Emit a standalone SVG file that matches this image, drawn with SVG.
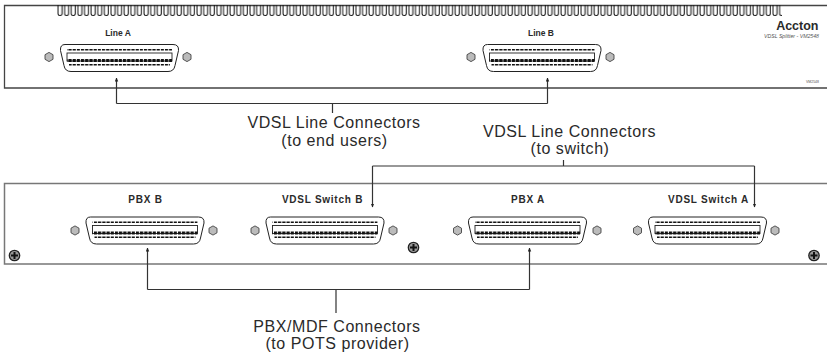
<svg xmlns="http://www.w3.org/2000/svg" width="827" height="354" viewBox="0 0 827 354">
<style>
text{font-family:"Liberation Sans",Arial,sans-serif;fill:#2a2a2a}
.cap{font-size:16px;text-anchor:middle;letter-spacing:.55px}
.lab{font-size:8.500px;font-weight:bold;text-anchor:middle}
.lab2{font-size:10px;font-weight:bold;text-anchor:middle;letter-spacing:.75px}
.panel{fill:none;stroke:#444;stroke-width:1.300}
.panel2{fill:none;stroke:#777;stroke-width:1.500}
.wire{fill:none;stroke:#333;stroke-width:1.200}
</style>
<defs>
<pattern id="fin" x="57" y="5" width="6.620" height="11" patternUnits="userSpaceOnUse">
<path d="M1 0V8.500Q1 10.500 3 10.500Q5 10.500 5 8.500V0" fill="none" stroke="#111" stroke-width="1"/>
</pattern>
<pattern id="pin" width="4.200" height="3" patternUnits="userSpaceOnUse"><rect width="3.200" height="3" fill="#111"/></pattern>
<marker id="ah" markerUnits="userSpaceOnUse" markerWidth="4" markerHeight="4" refX="3.500" refY="2" orient="auto"><path d="M0 .3L4 2L0 3.700Z" fill="#222"/></marker>
<g id="conn">
<path d="M5 0H113Q119 0 118.500 6L115 21Q114 27 108 27H11Q5 27 4 21L.5 6Q0 0 5 0Z" fill="#fff" stroke="#222" stroke-width="1"/>
<rect x="7" y="4.500" width="105" height="1.500" fill="url(#pin)"/>
<rect x="7" y="8.500" width="105" height="8" fill="#fff" stroke="#222" stroke-width=".9"/>
<rect x="7" y="14.500" width="105" height="3" fill="url(#pin)"/>
<rect x="9" y="19.500" width="101" height="1.500" fill="url(#pin)"/>
</g>
<g id="screw"><path d="M-4 -2.300L0 -4.600L4 -2.300V2.300L0 4.600L-4 2.300Z" fill="#bbb" stroke="#444" stroke-width=".9"/></g>
<g id="bolt"><circle r="5.200" fill="#999" stroke="#222" stroke-width="1.300"/><path d="M-3.500 0H3.500M0 -3.500V3.500" stroke="#111" stroke-width="2"/></g>
</defs>
<g id="top-panel">
<path class="panel" d="M827 5.500H4.500V88H827"/>
<rect x="57" y="5" width="725" height="11" fill="url(#fin)"/>
<text x="818.500" y="29.500" style="font-size:12.500px;font-weight:bold;text-anchor:end">Accton</text>
<text x="819" y="37.500" style="font-size:5.200px;font-style:italic;text-anchor:end;fill:#555">VDSL Splitter - VM2548</text>
<text x="819" y="83" style="font-size:3.500px;text-anchor:end;fill:#555">VM2548</text>
</g>
<g id="line-a">
<text class="lab" x="118" y="35.500">Line A</text>
<use href="#conn" x="60" y="44.500"/><use href="#screw" x="49" y="57"/><use href="#screw" x="187" y="57"/>
</g>
<g id="line-b">
<text class="lab" x="541" y="35.500">Line B</text>
<use href="#conn" x="482.500" y="44.500"/><use href="#screw" x="471" y="57"/><use href="#screw" x="610" y="57"/>
</g>
<g id="bottom-panel">
<path class="panel2" d="M827 183.500H4.500V264H827"/>
<use href="#bolt" x="14.500" y="255.500"/><use href="#bolt" x="413.500" y="247.500"/><use href="#bolt" x="814" y="255.500"/>
</g>
<g id="pbx-b">
<text class="lab2" x="145.500" y="202.500">PBX B</text>
<use href="#conn" x="85.500" y="217"/><use href="#screw" x="75" y="230.500"/><use href="#screw" x="213" y="230.500"/>
</g>
<g id="vdsl-switch-b">
<text class="lab2" x="322.500" y="202.500">VDSL Switch B</text>
<use href="#conn" x="265.500" y="217"/><use href="#screw" x="255" y="230.500"/><use href="#screw" x="393" y="230.500"/>
</g>
<g id="pbx-a">
<text class="lab2" x="528" y="202.500">PBX A</text>
<use href="#conn" x="468" y="217"/><use href="#screw" x="457.500" y="230.500"/><use href="#screw" x="597" y="230.500"/>
</g>
<g id="vdsl-switch-a">
<text class="lab2" x="708.500" y="202.500">VDSL Switch A</text>
<use href="#conn" x="648" y="217"/><use href="#screw" x="637.500" y="230.500"/><use href="#screw" x="775" y="230.500"/>
</g>
<g id="connectors">
<path class="wire" marker-end="url(#ah)" d="M116.500 103.500V78"/>
<path class="wire" marker-end="url(#ah)" d="M547.500 103.500V78"/>
<path class="wire" d="M116.500 103.500H547.500M332.500 103.500V113"/>
<path class="wire" marker-end="url(#ah)" d="M372.500 166V207"/>
<path class="wire" marker-end="url(#ah)" d="M754.500 166V207"/>
<path class="wire" d="M372.500 166H754.500M563.500 166V160"/>
<path class="wire" marker-end="url(#ah)" d="M147.500 289.500V248"/>
<path class="wire" marker-end="url(#ah)" d="M529.500 289.500V248"/>
<path class="wire" d="M147.500 289.500H529.500M336 289.500V313"/>
</g>
<g id="captions">
<text class="cap" x="334" y="128">VDSL Line Connectors</text>
<text class="cap" x="334.500" y="145.500">(to end users)</text>
<text class="cap" x="569.500" y="136.500">VDSL Line Connectors</text>
<text class="cap" x="570" y="154">(to switch)</text>
<text class="cap" x="337" y="331.500">PBX/MDF Connectors</text>
<text class="cap" x="337.500" y="349">(to POTS provider)</text>
</g>
</svg>
